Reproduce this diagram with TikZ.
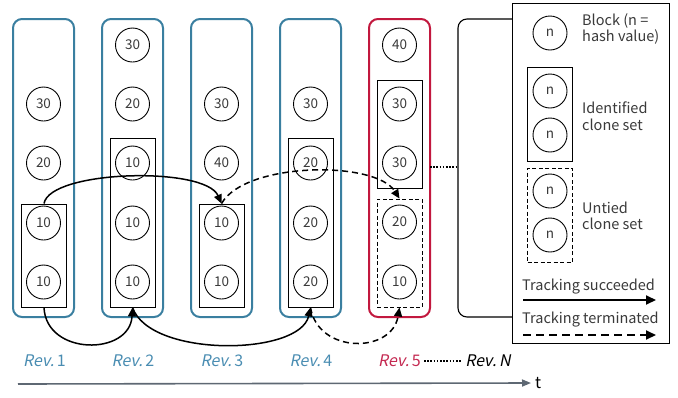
\documentclass[tikz,border=0pt]{standalone}
\usepackage{fontspec}
\setmainfont{Noto Sans CJK JP}
\newfontfamily\revfont[FakeSlant=0.2]{Noto Sans CJK JP}
\usetikzlibrary{arrows.meta}
\definecolor{colblue}{HTML}{3A7FA0}
\definecolor{labblue}{HTML}{4A8DB2}
\definecolor{colred}{HTML}{C2183E}
\definecolor{labred}{HTML}{C42A52}
\definecolor{txtgrey}{HTML}{3A3A3A}
\definecolor{axisgrey}{HTML}{5E6873}
\begin{document}
\begin{tikzpicture}[x=1pt,y=-1pt,
  col/.style={draw=colblue,line width=2pt,rounded corners=9pt,minimum width=61pt,minimum height=298pt,inner sep=0pt},
  colr/.style={col,draw=colred},
  blk/.style={circle,draw,line width=0.9pt,minimum size=34pt,inner sep=0pt,font=\fontsize{13.5}{13.5}\selectfont,text=txtgrey},
  cset/.style={draw,line width=0.9pt,minimum width=45pt,inner sep=0pt},
  uset/.style={cset,dash pattern=on 4pt off 2.5pt},
  okarrow/.style={line width=1.5pt,-{Triangle[length=9pt,width=8pt]}},
  endarrow/.style={okarrow,dash pattern=on 6pt off 4pt},
  revlab/.style={font=\fontsize{16}{16}\selectfont,inner sep=0pt},
  legtext/.style={font=\fontsize{14.5}{16.5}\selectfont,text=txtgrey,align=left,anchor=west,inner sep=0pt},
]
\useasboundingbox (0,0) rectangle (678,397);

% revision columns
\node[col] (col1) at (43.5,168) {};
\node[col] (col2) at (132.5,168) {};
\node[col] (col3) at (221.5,168) {};
\node[col] (col4) at (310.5,168) {};
\node[colr] (col5) at (399.5,168) {};
\draw[line width=1.1pt,rounded corners=9pt] (530,19) -- (458,19) -- (458,317) -- (530,317);

% clone sets
\node[cset,minimum height=103pt] (r1c) at (44,255.5) {};
\node[cset,minimum height=169pt] (r2c) at (132.5,222.5) {};
\node[cset,minimum height=103pt] (r3c) at (221.5,255.5) {};
\node[cset,minimum height=169pt] (r4c) at (310.5,222.5) {};
\node[cset,minimum height=108pt] (r5c) at (399.5,134) {};
\node[uset,minimum height=108pt] (r5d) at (399.5,253) {};

% blocks
\node[blk] (b12) at (43.5,104) {30};
\node[blk] (b13) at (43.5,163) {20};
\node[blk] (b14) at (43.5,223) {10};
\node[blk] (b15) at (43.5,282) {10};

\node[blk] (b21) at (132.5,45) {30};
\node[blk] (b22) at (132.5,104) {20};
\node[blk] (b23) at (132.5,163) {10};
\node[blk] (b24) at (132.5,223) {10};
\node[blk] (b25) at (132.5,282) {10};

\node[blk] (b32) at (221.5,104) {30};
\node[blk] (b33) at (221.5,163) {40};
\node[blk] (b34) at (221.5,223) {10};
\node[blk] (b35) at (221.5,282) {10};

\node[blk] (b42) at (310.5,104) {30};
\node[blk] (b43) at (310.5,163) {20};
\node[blk] (b44) at (310.5,223) {20};
\node[blk] (b45) at (310.5,282) {20};

\node[blk] (b51) at (399.5,45) {40};
\node[blk] (b52) at (399.5,104) {30};
\node[blk] (b53) at (399.5,163) {30};
\node[blk] (b54) at (399.5,222) {20};
\node[blk] (b55) at (399.5,282) {10};

% dotted continuation
\coordinate (d5) at (430,167);
\coordinate (dn) at (458,167);
\draw[line width=1.6pt,dash pattern=on 1.6pt off 1.6pt] (d5) -- (dn);

% tracking arrows
\draw[okarrow] (r1c.north) .. controls (50,170) and (205,166) .. (r3c.north);
\draw[okarrow] (r1c.south) .. controls (46,356) and (130,356) .. (r2c.south);
\draw[okarrow] (r2c.south) .. controls (150,358) and (300,356) .. (r4c.south);
\draw[endarrow] (r4c.south) .. controls (318,354) and (392,354) .. (r5d.south);
\draw[endarrow] (r3c.north) .. controls (245,162) and (375,160) .. (r5d.north);

% revision labels
\node[revlab,text=labblue] (l1) at (44.5,361) {{\revfont Rev.}\,1};
\node[revlab,text=labblue] (l2) at (133,361) {{\revfont Rev.}\,2};
\node[revlab,text=labblue] (l3) at (222,361) {{\revfont Rev.}\,3};
\node[revlab,text=labblue] (l4) at (311,361) {{\revfont Rev.}\,4};
\node[revlab,text=labred] (l5) at (399.5,361) {{\revfont Rev.}\,5};
\node[revlab,text=black] (ln) at (488,361) {{\revfont Rev.\,N}};
\draw[line width=1.6pt,dash pattern=on 1.6pt off 1.6pt] (l5.east) ++(3pt,0) coordinate (q1) (q1) -- ([xshift=-3pt]ln.west);

% time axis
\coordinate (t0) at (18,384);
\node[font=\fontsize{16}{16}\selectfont,inner sep=0pt,anchor=west] (tl) at (535,383) {t};
\draw[axisgrey,line width=1.6pt,-{Triangle[length=9pt,width=7pt]}] (t0) -- ([xshift=-4pt]tl.west);

% legend
\node[draw,fill=white,line width=1pt,minimum width=157pt,minimum height=340pt,inner sep=0pt] (leg) at (590.5,173) {};
\node[blk] (lb) at (550,33) {n};
\node[legtext] (lbt) at (582,29) {Block (n =\\hash value)};
\node[cset,minimum height=94pt] (lcs) at (550,114) {};
\node[blk] (lc1) at (550,91) {n};
\node[blk] (lc2) at (550,135) {n};
\node[legtext] (lct) at (582,116) {Identified\\clone set};
\node[uset,minimum height=94pt] (lus) at (550,215) {};
\node[blk] (lu1) at (550,191) {n};
\node[blk] (lu2) at (550,235) {n};
\node[legtext] (lut) at (582,216) {Untied\\clone set};
\node[legtext] (ls) at (522,287) {Tracking succeeded};
\coordinate (ls0) at (523,300);
\coordinate (ls1) at (656,300);
\draw[line width=2pt,-{Triangle[length=10pt,width=9pt]}] (ls0) -- (ls1);
\node[legtext] (lt) at (522,320) {Tracking terminated};
\coordinate (lt0) at (523,335);
\coordinate (lt1) at (656,335);
\draw[line width=2pt,dash pattern=on 8pt off 5pt,-{Triangle[length=10pt,width=9pt]}] (lt0) -- (lt1);
\end{tikzpicture}
\end{document}
